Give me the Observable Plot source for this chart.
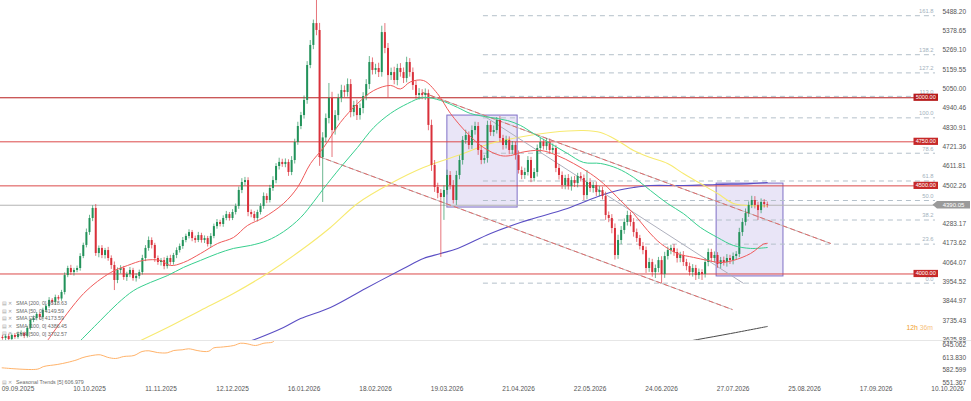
<!DOCTYPE html>
<html><head><meta charset="utf-8">
<script src="https://cdn.jsdelivr.net/npm/d3@7"></script>
<script src="https://cdn.jsdelivr.net/npm/@observablehq/plot@0.6"></script>
<style>
body{margin:0;background:#fff;}
#wrap{width:971px;height:401px;position:relative;overflow:hidden;background:#fff;}
#wrap svg{display:block;}
</style></head><body><div id="wrap"></div>
<script>
const FONT = '"Liberation Sans", Arial, sans-serif';

// ---- candles (daily closes, wick lengths in $) ----
const firstOpen = 3640;
const closes = [
3634,3645,3628,3651,3640,3657,3662,3645,3691,3736,
3747,3770,3753,3793,3815,3850,3838,3866,3858,3895,
3991,4031,4008,4020,4031,4099,4162,4235,4315,4372,
4116,4145,4105,4133,4088,4048,3963,4020,4031,3980,
3997,4020,3974,3986,4008,4088,4145,4190,4162,4088,
4065,4076,4042,4088,4065,4105,4133,4156,4190,4213,
4235,4201,4190,4218,4190,4201,4167,4213,4269,4292,
4281,4315,4337,4315,4349,4383,4474,4519,4530,4349,
4337,4315,4349,4383,4440,4417,4485,4530,4610,4633,
4621,4633,4576,4644,4746,4837,4899,4985,5183,5297,
5421,5382,4661,4772,4882,4996,4814,4899,4996,5041,
5030,5075,4916,4956,4899,4939,5007,5075,5200,5155,
5166,5143,5370,5280,5126,5143,5098,5166,5143,5109,
5200,5143,5070,5013,5024,5013,5024,4843,4616,4491,
4457,4434,4474,4559,4502,4417,4559,4644,4758,4786,
4729,4814,4837,4701,4644,4655,4843,4803,4814,4871,
4769,4729,4758,4701,4729,4672,4587,4559,4576,4644,
4542,4576,4712,4746,4723,4746,4701,4712,4599,4559,
4502,4542,4496,4530,4513,4553,4542,4445,4519,4485,
4502,4462,4474,4440,4332,4315,4258,4105,4190,4247,
4292,4332,4292,4235,4201,4156,4133,4031,4065,4008,
4031,4076,3997,4099,4133,4145,4122,4088,4105,4065,
4042,4008,4031,3991,4008,3997,4065,4122,4088,4105,
4054,4076,4065,4088,4076,4099,4111,4235,4292,4343,
4389,4417,4389,4360,4406,4394,4390.05];
const upWick = [
12,10,14,9,11,13,15,8,12,10, 14,11,9,13,12,16,10,14,11,12,
15,13,18,12,14,16,13,20,18,15, 22,14,16,12,18,15,20,14,16,12,
13,17,12,15,14,18,16,20,15,12, 14,12,16,13,18,12,15,14,17,13,
16,12,14,18,13,15,12,16,14,17, 13,15,18,12,16,14,19,22,18,16,
14,18,13,16,20,15,18,22,16,24, 18,20,15,22,19,24,18,25,22,28,
20,174,40,30,26,85,35,28,24,30, 26,32,28,24,30,26,22,28,34,26,
24,30,36,51,28,25,30,24,28,26, 30,22,26,24,28,22,26,20,30,28,
24,22,26,30,22,28,24,26,22,30, 20,26,24,22,28,18,24,22,26,17,
22,18,24,20,22,18,26,20,24,22, 18,22,20,24,18,22,20,26,18,22,
20,18,22,20,24,18,22,20,68,22, 18,20,22,18,24,20,22,26,30,22,
20,24,18,22,20,18,22,20,24,18, 20,18,22,24,20,18,22,20,18,22,
18,20,22,18,20,16,22,20,18,20, 16,18,20,22,18,20,16,24,22,26,
20,24,22,18,20,16,14];
const dnWick = [
10,12,9,13,11,10,14,12,9,11, 12,10,14,11,13,10,12,15,11,13,
14,12,16,20,13,15,12,14,16,18, 16,24,18,20,16,22,57,18,20,16,
22,18,15,20,16,14,18,16,20,22, 16,20,18,14,16,15,18,14,16,13,
14,18,16,12,15,17,14,16,13,15, 14,16,13,15,12,14,16,18,20,24,
18,16,20,14,16,18,14,16,18,20, 16,18,22,18,20,16,18,20,22,18,
24,30,50,255,28,30,153,26,30,24, 28,26,30,24,28,26,30,24,28,26,
24,28,26,30,125,28,24,30,26,28, 24,26,28,22,26,24,28,30,34,28,
30,340,130,26,24,20,28,24,26,22, 24,22,26,28,24,20,26,22,24,20,
22,26,20,24,22,26,20,24,22,20, 24,20,26,22,20,24,22,20,24,26,
22,24,20,26,22,24,20,28,24,22, 26,22,24,20,28,24,30,26,22,24,
22,20,24,26,22,20,24,28,22,26, 34,24,51,22,20,24,22,26,24,22,
24,20,26,28,22,34,20,24,22,26, 22,24,20,26,22,24,20,18,22,20,
22,18,20,56,18,20,16];

// ---- moving averages: [bar, price] ----
const sma20 = [[14.5,3622],[26.1,3889],[34.8,4008],[40.2,4048],[45.4,4077],[50.8,4077],[54.0,4048],[58.2,4065],[63.7,4116],[69.2,4173],[74.3,4207],[78.8,4275],[84.0,4320],[90.4,4400],[94.9,4491],[99.1,4627],[103.3,4718],[108.7,4860],[114.2,4967],[119.4,5041],[124.8,5070],[128.0,5050],[131.2,5090],[135.4,5098],[139.9,5024],[144.1,4911],[149.6,4797],[154.7,4718],[160.2,4672],[163.4,4672],[166.6,4689],[173.1,4701],[178.5,4672],[183.7,4627],[189.1,4570],[193.3,4513],[198.8,4417],[203.0,4343],[207.5,4247],[211.7,4173],[217.1,4116],[222.3,4094],[226.8,4077],[231.0,4065],[235.1,4077],[240.6,4116],[244.8,4170],[246,4174]];
const sma50 = [[25.1,3622],[31.5,3736],[37.0,3832],[42.2,3906],[47.6,3952],[53.1,3991],[58.2,4037],[63.7,4077],[69.2,4116],[74.3,4145],[79.8,4162],[85.2,4190],[90.4,4240],[95.9,4320],[100.1,4410],[103.3,4485],[108.7,4604],[114.2,4718],[119.4,4831],[124.8,4911],[130.3,4967],[135.4,5002],[140.9,4985],[146.4,4945],[150.5,4911],[157.0,4888],[162.4,4871],[166.6,4843],[170.8,4797],[176.3,4740],[181.7,4684],[186.9,4633],[192.4,4627],[197.8,4599],[203.0,4548],[208.4,4474],[213.9,4400],[219.0,4343],[224.5,4264],[230.0,4207],[235.1,4162],[240.6,4145],[246,4150]];
const sma100 = [[44.4,3622],[53.1,3696],[63.7,3793],[74.3,3889],[85.2,4003],[95.9,4133],[105.5,4264],[114.2,4400],[124.8,4513],[135.4,4604],[146.4,4672],[157.0,4740],[165.7,4775],[176.3,4803],[186.9,4814],[192.4,4803],[197.8,4758],[203.0,4701],[208.4,4661],[213.9,4627],[219.0,4570],[224.5,4513],[230.0,4457],[235.1,4400],[239.6,4389],[246,4386]];
const sma200 = [[78.0,3610],[82.0,3634],[90.4,3696],[95.9,3747],[105.5,3810],[116.8,3918],[129.0,4031],[135.4,4088],[140.9,4116],[146.4,4145],[157.0,4230],[166.6,4292],[170.8,4315],[181.7,4372],[192.4,4445],[197.8,4474],[203.0,4491],[208.4,4502],[219.0,4502],[230.0,4508],[240.6,4513],[246,4519]];
const sma500 = [[215,3600],[223.6,3628],[234.2,3662],[246,3702]];

// ---- seasonal trend (lower panel): [bar, value] ----
const seasonal = [[-0.1,588.5],[11.2,585.1],[13.3,591.8],[17.6,596.7],[20.8,601.7],[24.0,608.4],[25.6,613.3],[28.3,618.3],[31.5,620.7],[33.7,614.8],[36.4,611.6],[39.0,616.5],[42.3,619.0],[44.9,628.9],[47.1,630.7],[49.8,626.4],[53.0,625.7],[55.1,631.4],[57.8,633.1],[59.9,635.6],[62.6,631.4],[64.8,628.9],[66.4,629.7],[68.0,638.1],[70.1,639.6],[74.4,643.8],[76.6,649.5],[78.7,648.0],[81.4,643.8],[84.1,649.5],[86.8,652.0],[87.5,656.2]];

// ---- levels, fibonacci, drawings ----
const levels = [5000, 4750, 4500, 4000];
const lastPrice = 4390.05;
const fibLow = 3948, fibHigh = 4886, fibFromBar = 154.7;
const fibLevels = [0, 23.6, 38.2, 50, 61.8, 78.6, 100, 113, 127.2, 138.2, 161.8];
const boxes = [{x1:143.1,x2:165.7,y1:4377,y2:4899},{x1:229.7,x2:251.2,y1:3986,y2:4513}];
const channels = [{x1:101.7,y1:4667,x2:234.8,y2:3798},{x1:135.1,y1:5030,x2:266.4,y2:4173}];
const grayTrend = [{x1:154.7,y1:4899,x2:238.4,y2:3946}];

// ---- axes / labels ----
const yTicks = [5488.20,5378.65,5269.10,5159.55,5050.00,4940.46,4830.91,4721.36,4611.81,4502.26,4283.17,4173.62,4064.07,3954.52,3844.97,3735.43,3625.88];
const seasonTicks = [645.062, 613.830, 582.599, 551.367];
const xLabels = ["09.09.2025","10.10.2025","11.11.2025","12.12.2025","16.01.2026","18.02.2026","19.03.2026","21.04.2026","22.05.2026","24.06.2026","27.07.2026","25.08.2026","17.09.2026","10.10.2026"];
const firstLabelBar = 5, barsPerLabel = 23;
const legendRows = ["SMA [200, 0] 4518.63","SMA [50, 0] 4149.59","SMA [20, 0] 4173.59","SMA [100, 0] 4386.45","SMA [500, 0] 3702.57"];
const seasonalLegend = "Seasonal Trends [5] 606.979";
const countdown = ["12h", " 36m"];

// ---- build ----
const candles = closes.map((c, i) => {
  const o = i ? closes[i - 1] : firstOpen;
  return {i, o, c, h: Math.max(o, c) + upWick[i], l: Math.min(o, c) - dnWick[i]};
});
const UP = "#22925a", DN = "#d9303a";
const xDomain = [-0.63, 300.1];
const px = d => d[0], py = d => d[1];
const fibY = d => fibLow + (fibHigh - fibLow) * d / 100;

const main = Plot.plot({
  width: 971, height: 340,
  marginLeft: 0, marginRight: 36, marginTop: 0, marginBottom: 0,
  x: {domain: xDomain, axis: null},
  y: {domain: [3622.5, 5552], axis: null},
  color: {type: "identity"},
  style: {fontFamily: FONT, fontSize: "6.5px", background: "#fff", overflow: "visible"},
  marks: [
    Plot.rect(boxes, {x1: "x1", x2: "x2", y1: "y1", y2: "y2", fill: "#dad3f2", fillOpacity: 0.6, stroke: "#7f6fc6", strokeWidth: 1}),
    Plot.ruleY([lastPrice], {stroke: "#b3b3b3", strokeWidth: 1}),
    Plot.ruleY(levels, {stroke: d => d === 5000 ? "#b71c1c" : "#dc4a4a", strokeWidth: 1}),
    Plot.ruleY(fibLevels, {y: fibY, x1: fibFromBar, x2: xDomain[1], stroke: "#b4c0ca", strokeWidth: 1, strokeDasharray: "5,4"}),
    Plot.text(fibLevels, {y: fibY, text: d => d.toFixed(1), frameAnchor: "right", textAnchor: "end", dx: -2, dy: -4.5, fill: "#a3b1bd", fontSize: 5.8}),
    Plot.line(sma500, {x: px, y: py, stroke: "#4a4a4a", strokeWidth: 1, curve: "catmull-rom", clip: true}),
    Plot.line(sma200, {x: px, y: py, stroke: "#5b4fc4", strokeWidth: 1.1, curve: "catmull-rom", clip: true}),
    Plot.line(sma100, {x: px, y: py, stroke: "#f7ea70", strokeWidth: 1.1, curve: "catmull-rom", clip: true}),
    Plot.link(channels, {x1: "x1", y1: "y1", x2: "x2", y2: "y2", stroke: "#bdbdbd", strokeWidth: 1}),
    Plot.link(channels, {x1: "x1", y1: "y1", x2: "x2", y2: "y2", stroke: "#e06a6a", strokeWidth: 1, strokeDasharray: "5,3"}),
    Plot.link(grayTrend, {x1: "x1", y1: "y1", x2: "x2", y2: "y2", stroke: "#aeb0bd", strokeWidth: 1}),
    Plot.ruleX(candles, {x: "i", y1: "l", y2: "h", stroke: d => d.c >= d.o ? UP : DN, strokeOpacity: 0.75, strokeWidth: 0.9, clip: true}),
    Plot.ruleX(candles, {x: "i", y1: "o", y2: "c", stroke: d => d.c >= d.o ? UP : DN, strokeWidth: 2, clip: true}),
    Plot.line(sma50, {x: px, y: py, stroke: "#37cf8e", strokeWidth: 1, curve: "catmull-rom", clip: true}),
    Plot.line(sma20, {x: px, y: py, stroke: "#f05a5a", strokeWidth: 1, curve: "catmull-rom", clip: true}),
    Plot.axisY(yTicks, {anchor: "right", tickSize: 0, tickPadding: 7, tickFormat: d => d.toFixed(2), fill: "#555", label: null})
  ]
});

const lower = Plot.plot({
  width: 971, height: 61,
  marginLeft: 0, marginRight: 36, marginTop: 0, marginBottom: 15,
  x: {domain: xDomain, axis: null},
  y: {domain: [542.2, 656.2], axis: null},
  style: {fontFamily: FONT, fontSize: "6.5px", background: "#fff", overflow: "visible"},
  marks: [
    Plot.line(seasonal, {x: px, y: py, stroke: "#ffb36a", strokeWidth: 1, curve: "catmull-rom", clip: true}),
    Plot.axisY(seasonTicks, {anchor: "right", tickSize: 0, tickPadding: 7, tickFormat: d => d.toFixed(3), fill: "#555", label: null}),
    Plot.text(xLabels, {x: (d, k) => firstLabelBar + k * barsPerLabel, text: d => d, frameAnchor: "bottom", dy: 4, fill: "#555"})
  ]
});

const wrap = document.getElementById("wrap");
wrap.appendChild(main);
wrap.appendChild(lower);

// ---- annotations using the plot's scales ----
const ys = main.scale("y");
const g = d3.select(main).append("g").attr("font-family", FONT).attr("text-anchor", "start");
legendRows.forEach((t, k) => {
  const yy = 303.3 + k * 7.6;
  g.append("text").attr("x", 2).attr("y", yy).attr("dy", "0.35em").attr("text-anchor", "start").attr("font-size", 5).attr("fill", "#a0a0a0").text("▤ ✕");
  g.append("text").attr("x", 16).attr("y", yy).attr("dy", "0.35em").attr("text-anchor", "start").attr("font-size", 5.3).attr("fill", "#6a6a6a").text(t);
});
levels.forEach(v => {
  const yy = ys.apply(v);
  g.append("rect").attr("x", 913.5).attr("y", yy - 3.6).attr("width", 24.5).attr("height", 7.2).attr("fill", v === 5000 ? "#b71c1c" : "#c62828");
  g.append("text").attr("x", 925.75).attr("y", yy).attr("dy", "0.35em").attr("text-anchor", "middle").attr("font-size", 5.6).attr("fill", "#fff").text(v.toFixed(2));
});
const yp = ys.apply(lastPrice);
g.append("path").attr("d", `M932.5,${yp} L937,${yp - 3.8} L970,${yp - 3.8} L970,${yp + 3.8} L937,${yp + 3.8} Z`).attr("fill", "#9a9a9a");
g.append("text").attr("x", 953.5).attr("y", yp).attr("dy", "0.35em").attr("text-anchor", "middle").attr("font-size", 6).attr("fill", "#fff").text(lastPrice.toFixed(2));
const cd = g.append("text").attr("x", 933).attr("y", 328).attr("dy", "0.35em").attr("text-anchor", "end").attr("font-size", 6.8);
cd.append("tspan").attr("fill", "#f0a02a").text(countdown[0]);
cd.append("tspan").attr("fill", "#f6c27e").text(countdown[1]);

const g2 = d3.select(lower).append("g").attr("font-family", FONT).attr("text-anchor", "start");
g2.append("line").attr("x1", 0).attr("x2", 971).attr("y1", 0.5).attr("y2", 0.5).attr("stroke", "#e6e6e6");
g2.append("text").attr("x", 2).attr("y", 42).attr("dy", "0.35em").attr("text-anchor", "start").attr("font-size", 5).attr("fill", "#a0a0a0").text("▤ ✕");
g2.append("text").attr("x", 16).attr("y", 42).attr("dy", "0.35em").attr("text-anchor", "start").attr("font-size", 5.3).attr("fill", "#6a6a6a").text(seasonalLegend);
</script>
</body></html>
